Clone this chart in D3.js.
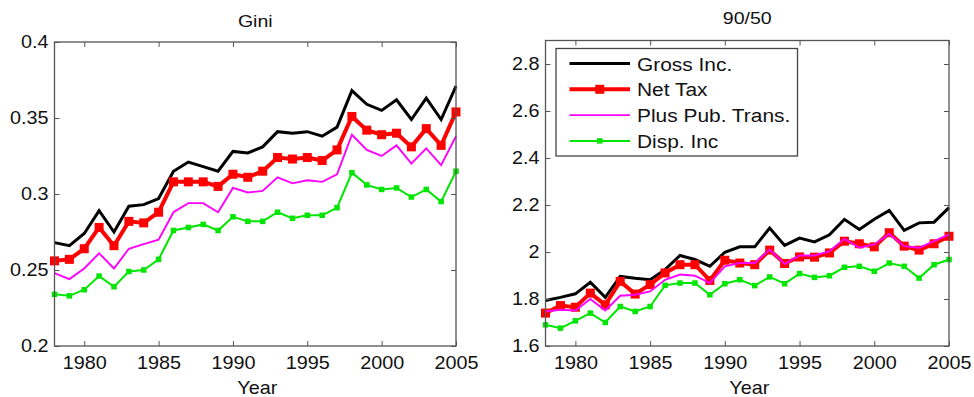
<!DOCTYPE html>
<html>
<head>
<meta charset="utf-8">
<script src="https://cdn.jsdelivr.net/npm/d3@7"></script>
<style>
  html, body { margin: 0; padding: 0; background: #fff; }
  svg { display: block; font-family: "Liberation Sans", Arial, sans-serif; }
  .tick text { fill: #111; }
</style>
</head>
<body>
<svg id="chart" width="974" height="397"></svg>
<script>
// Years covered by both panels
const years = [1978,1979,1980,1981,1982,1983,1984,1985,1986,1987,1988,1989,1990,1991,
               1992,1993,1994,1995,1996,1997,1998,1999,2000,2001,2002,2003,2004,2005];

// Gini coefficient by income concept
const giniGross     = [0.268,0.266,0.274,0.289,0.275,0.292,0.293,0.297,0.315,0.321,0.318,0.315,0.328,0.327,
                       0.331,0.341,0.340,0.341,0.338,0.344,0.368,0.359,0.355,0.362,0.349,0.363,0.349,0.371];
const giniNetTax    = [0.256,0.257,0.264,0.278,0.266,0.282,0.281,0.288,0.308,0.308,0.308,0.305,0.313,0.311,
                       0.315,0.324,0.323,0.324,0.322,0.329,0.351,0.342,0.339,0.340,0.331,0.343,0.332,0.354];
const giniPubTrans  = [0.248,0.244,0.251,0.261,0.251,0.264,0.267,0.270,0.288,0.294,0.294,0.288,0.304,0.301,
                       0.302,0.311,0.307,0.309,0.308,0.313,0.339,0.329,0.325,0.332,0.320,0.330,0.319,0.338];
const giniDisp      = [0.234,0.233,0.237,0.246,0.239,0.249,0.250,0.257,0.276,0.278,0.280,0.276,0.285,0.282,
                       0.282,0.288,0.284,0.286,0.286,0.291,0.314,0.306,0.303,0.304,0.298,0.303,0.295,0.315];

// 90/50 percentile ratio by income concept
const p9050Gross    = [1.794,1.807,1.822,1.871,1.807,1.896,1.888,1.882,1.925,1.985,1.968,1.939,1.999,2.022,
                       2.022,2.102,2.028,2.059,2.043,2.073,2.139,2.096,2.139,2.177,2.092,2.124,2.127,2.189];
const p9050NetTax   = [1.740,1.772,1.765,1.825,1.775,1.875,1.821,1.861,1.911,1.946,1.946,1.879,1.965,1.953,
                       1.946,2.008,1.951,1.979,1.978,1.996,2.046,2.035,2.022,2.082,2.025,2.008,2.035,2.067];
const p9050PubTrans = [1.747,1.754,1.751,1.800,1.751,1.814,1.818,1.832,1.882,1.904,1.899,1.868,1.939,1.953,
                       1.953,2.010,1.949,1.985,1.985,2.003,2.056,2.018,2.032,2.077,2.025,2.018,2.046,2.075];
const p9050Disp     = [1.690,1.676,1.707,1.740,1.700,1.768,1.747,1.768,1.858,1.868,1.868,1.818,1.865,1.882,
                       1.857,1.894,1.865,1.908,1.892,1.899,1.935,1.939,1.918,1.953,1.939,1.889,1.946,1.968];

// Axis ticks
const yearTicks = [1980,1985,1990,1995,2000,2005];
const giniTicks = [0.2,0.25,0.3,0.35,0.4];
const giniTickLabels = ["0.2","0.25","0.3","0.35","0.4"];
const p9050Ticks = [1.6,1.8,2.0,2.2,2.4,2.6,2.8];
const p9050TickLabels = ["1.6","1.8","2","2.2","2.4","2.6","2.8"];

const seriesNames = ["Gross Inc.","Net Tax","Plus Pub. Trans.","Disp. Inc"];

// Line styles for the four income concepts
const styles = [
  { color: "#000000", width: 3,   marker: 0 },
  { color: "#ff0000", width: 4,   marker: 9 },
  { color: "#ff00ff", width: 1.9, marker: 0 },
  { color: "#00e600", width: 2,   marker: 5.5 }
];

// Glyphs are set slightly wide
const WIDE = 1.1;

const svg = d3.select("#chart");

function label(parent, x, y, text, size, anchor, sx) {
  return parent.append("text")
    .attr("transform", `translate(${x},${y}) scale(${sx},1)`)
    .attr("text-anchor", anchor)
    .attr("font-size", size)
    .attr("fill", "#111")
    .text(text);
}

function drawPanel(opts) {
  const { x0, x1, yTop, yBottom, domainY, yTicks, yTickLabels, title, titleY, series } = opts;
  const x = d3.scaleLinear().domain([1978, 2005]).range([x0, x1]);
  const y = d3.scaleLinear().domain(domainY).range([yBottom, yTop]);
  const g = svg.append("g");

  // data lines
  const line = d3.line().x((d, i) => x(years[i])).y(d => y(d));
  series.forEach((vals, k) => {
    const st = styles[k];
    g.append("path")
      .attr("d", line(vals))
      .attr("fill", "none")
      .attr("stroke", st.color)
      .attr("stroke-width", st.width)
      .attr("stroke-linejoin", "miter");
    if (st.marker > 0) {
      g.selectAll(null).data(vals).enter().append("rect")
        .attr("x", (d, i) => x(years[i]) - st.marker / 2)
        .attr("y", d => y(d) - st.marker / 2)
        .attr("width", st.marker)
        .attr("height", st.marker)
        .attr("fill", st.color);
    }
  });

  const tickLen = 5;
  const fs = 18;
  // bottom axis with labels
  g.append("g").attr("transform", `translate(0,${yBottom})`)
    .call(d3.axisBottom(x).tickValues(yearTicks).tickFormat(d3.format("d"))
      .tickSizeInner(-tickLen).tickSizeOuter(0).tickPadding(10))
    .call(a => a.select(".domain").remove())
    .call(a => a.selectAll("line").attr("stroke", "#555"))
    .call(a => a.selectAll("text").attr("font-size", fs).attr("transform", `scale(${WIDE},1)`));
  // top axis ticks
  g.append("g").attr("transform", `translate(0,${yTop})`)
    .call(d3.axisTop(x).tickValues(yearTicks).tickFormat("")
      .tickSizeInner(-tickLen).tickSizeOuter(0))
    .call(a => a.select(".domain").remove())
    .call(a => a.selectAll("line").attr("stroke", "#555"));
  // left axis with labels
  g.append("g").attr("transform", `translate(${x0},0)`)
    .call(d3.axisLeft(y).tickValues(yTicks).tickFormat((d, i) => yTickLabels[i])
      .tickSizeInner(-tickLen).tickSizeOuter(0).tickPadding(5.5))
    .call(a => a.select(".domain").remove())
    .call(a => a.selectAll("line").attr("stroke", "#555"))
    .call(a => a.selectAll("text").attr("font-size", fs).attr("transform", `scale(${WIDE},1)`));
  // right axis ticks
  g.append("g").attr("transform", `translate(${x1},0)`)
    .call(d3.axisRight(y).tickValues(yTicks).tickFormat("")
      .tickSizeInner(-tickLen).tickSizeOuter(0))
    .call(a => a.select(".domain").remove())
    .call(a => a.selectAll("line").attr("stroke", "#555"));

  // axes box
  g.append("rect")
    .attr("x", x0).attr("y", yTop)
    .attr("width", x1 - x0).attr("height", yBottom - yTop)
    .attr("fill", "none").attr("stroke", "#555").attr("stroke-width", 1.3);

  // title and x-axis label
  label(g, (x0 + x1) / 2, titleY, title, 17, "middle", 1.15);
  label(g, (x0 + x1) / 2 + 2, 394, "Year", 18, "middle", WIDE);

  return { x, y, g };
}

drawPanel({
  x0: 54.5, x1: 456, yTop: 42, yBottom: 346,
  domainY: [0.2, 0.4], yTicks: giniTicks, yTickLabels: giniTickLabels,
  title: "Gini", titleY: 26.5,
  series: [giniGross, giniNetTax, giniPubTrans, giniDisp]
});

drawPanel({
  x0: 545.5, x1: 949, yTop: 40.5, yBottom: 346,
  domainY: [1.6, 2.9], yTicks: p9050Ticks, yTickLabels: p9050TickLabels,
  title: "90/50", titleY: 24,
  series: [p9050Gross, p9050NetTax, p9050PubTrans, p9050Disp]
});

// legend in the 90/50 panel
const lg = svg.append("g");
lg.append("rect")
  .attr("x", 556).attr("y", 48.5).attr("width", 241.5).attr("height", 107.5)
  .attr("fill", "#fff").attr("stroke", "#444").attr("stroke-width", 1.3);
seriesNames.forEach((name, k) => {
  const st = styles[k];
  const cy = 63.5 + k * 25.8;
  lg.append("line")
    .attr("x1", 569.5).attr("x2", 630).attr("y1", cy).attr("y2", cy)
    .attr("stroke", st.color).attr("stroke-width", st.width);
  if (st.marker > 0) {
    lg.append("rect")
      .attr("x", 599.75 - st.marker / 2).attr("y", cy - st.marker / 2)
      .attr("width", st.marker).attr("height", st.marker)
      .attr("fill", st.color);
  }
  label(lg, 637, cy + 7, name, 19, "start", WIDE);
});
</script>
</body>
</html>
